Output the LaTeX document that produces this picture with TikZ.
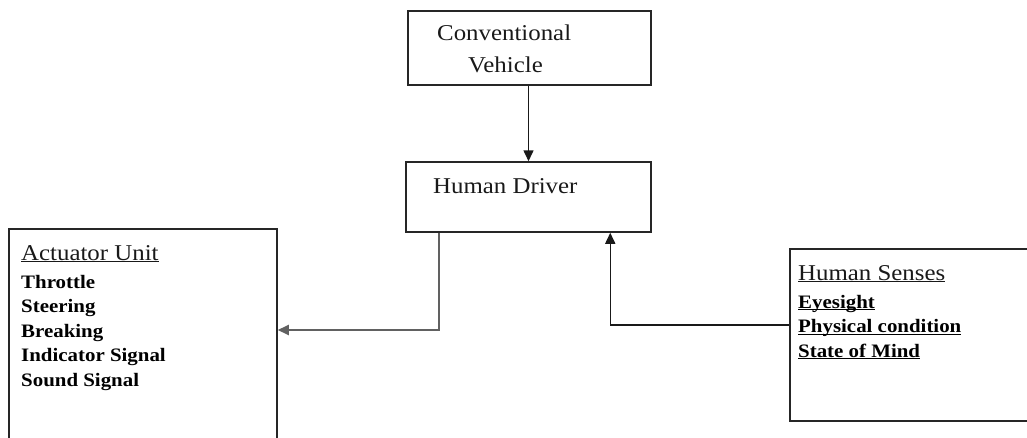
\documentclass[tikz,border=0pt]{standalone}
\usepackage{fontspec}
\setmainfont{Liberation Serif}[FakeStretch=1.1]
\usetikzlibrary{arrows.meta}
% underline at a fixed depth, crossing descenders
\newcommand{\uln}[1]{\setbox0\hbox{#1}\rlap{\rule[-2.4pt]{\wd0}{1.1pt}}\box0}
\tikzset{
  box/.style={draw=black!85, line width=1.5pt, inner sep=0pt},
  head/.style={anchor=base west, inner sep=0pt, text=black!90,
    font=\fontsize{22.6}{27}\selectfont},
  item/.style={anchor=base west, inner sep=0pt, text=black,
    font=\fontsize{19}{24}\selectfont\bfseries},
  link/.style={line width=1.5pt, draw=black!90,
    -{Triangle[length=11pt,width=10pt]}},
  graylink/.style={link, draw=black!62, line width=2pt}
}
\begin{document}
\begin{tikzpicture}[x=1pt, y=-1pt]
\useasboundingbox (0,0) rectangle (1027,437);

% boxes
\node[box, minimum width=243pt, minimum height=74pt] (cv) at (529.5,48) {};
\node[box, minimum width=245pt, minimum height=70pt] (hd) at (528.5,197) {};
\node[box, minimum width=268pt, minimum height=212pt] (act) at (143,335) {};
\node[box, minimum width=244pt, minimum height=172pt] (hs) at (912,335) {};

% titles
\node[head] (cv1) at (437,40) {Conventional};
\node[head] (cv2) at (468,72) {Vehicle};
\node[head] (hdt) at (433,193) {Human Driver};
\node[head] (actt) at (21,260) {\uln{Actuator Unit}};
\node[head] (hst) at (798,280) {\uln{Human Senses}};

% actuator items
\node[item] (a1) at (21,288) {Throttle};
\node[item] (a2) at (21,312.5) {Steering};
\node[item] (a3) at (21,337) {Breaking};
\node[item] (a4) at (21,361.5) {Indicator Signal};
\node[item] (a5) at (21,386) {Sound Signal};

% senses items
\node[item] (s1) at (798,308) {\uln{Eyesight}};
\node[item] (s2) at (798,332.5) {\uln{Physical condition}};
\node[item] (s3) at (798,357) {\uln{State of Mind}};

% connectors
\draw[link] ([xshift=-1pt]cv.south) -- ([xshift=-1pt]cv.south |- hd.north);
\draw[graylink] ([xshift=34pt]hd.south west) |- ([yshift=5pt]act.east);
\draw[link] ([yshift=10pt]hs.west) -| ([xshift=205pt]hd.south west);
\end{tikzpicture}
\end{document}
